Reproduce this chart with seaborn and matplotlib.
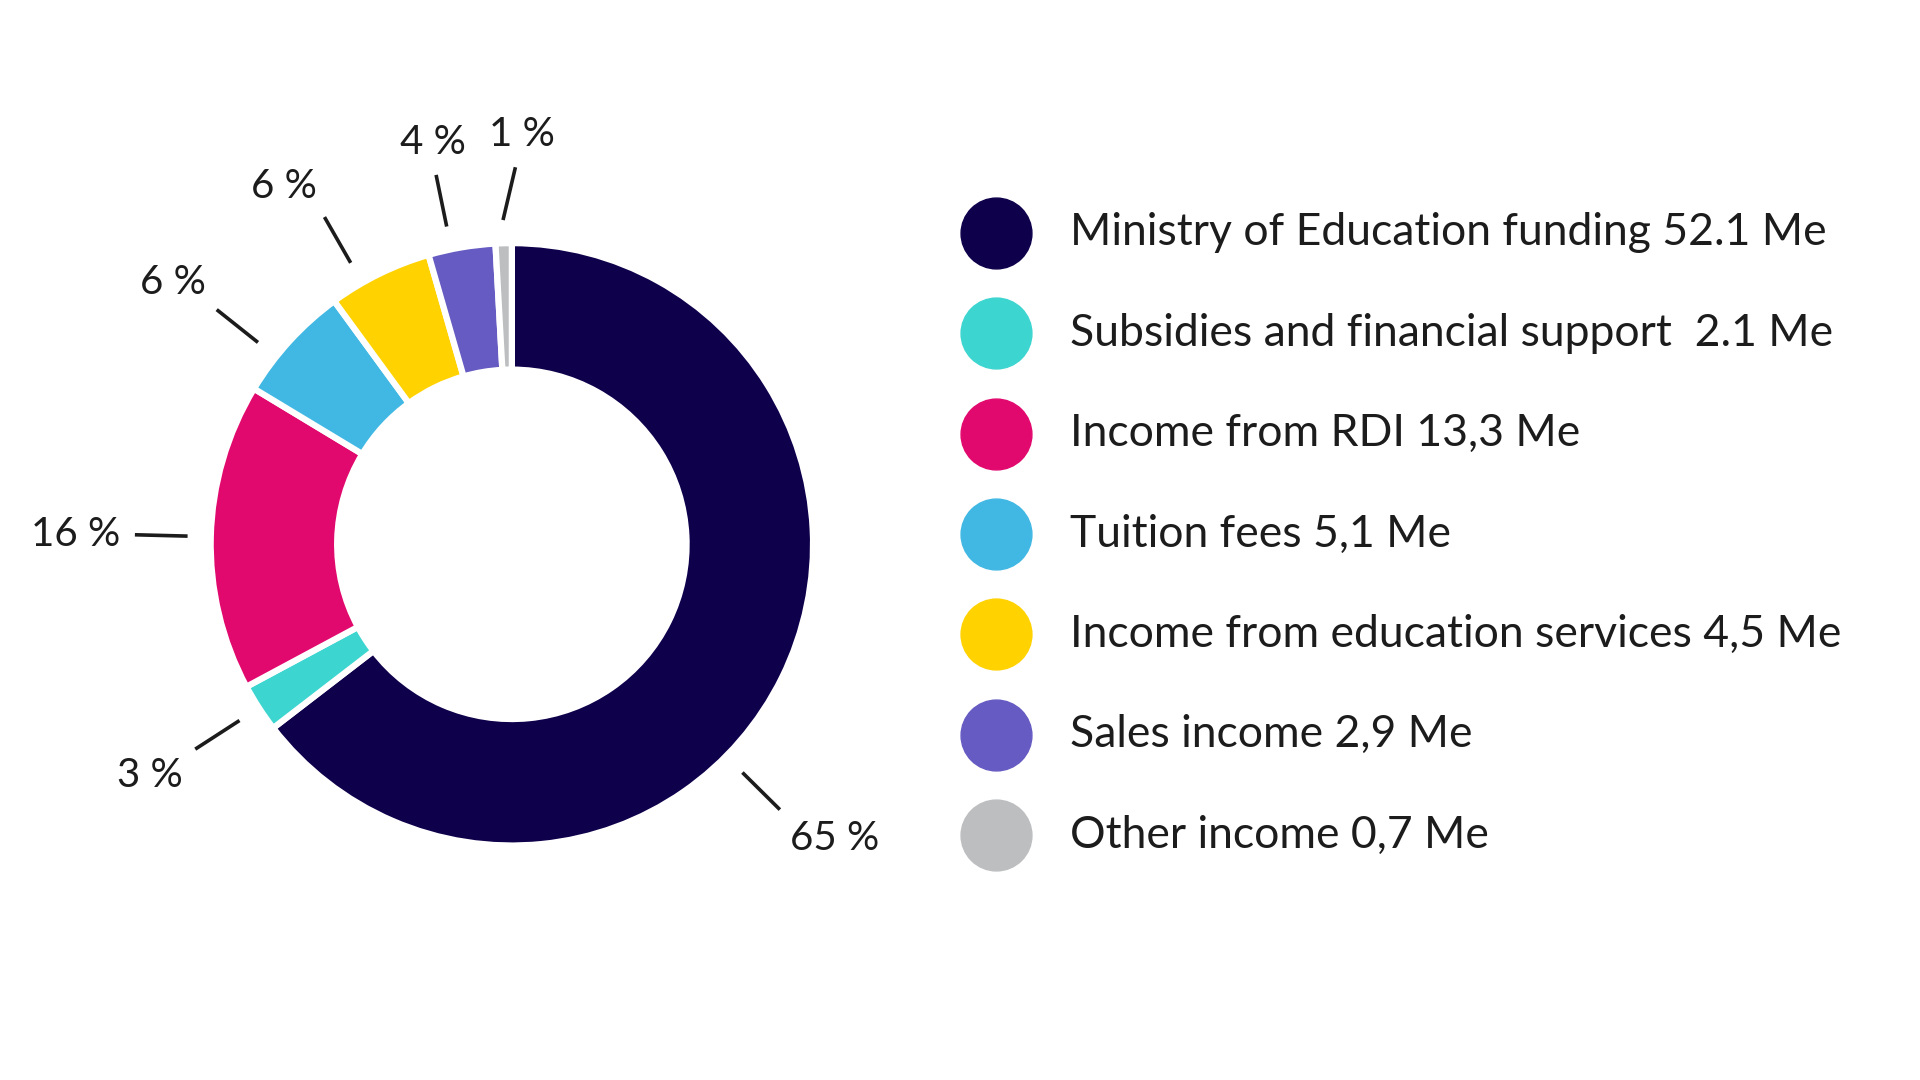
import numpy as np
import matplotlib
matplotlib.use("Agg")
import matplotlib.pyplot as plt
import seaborn as sns

# ---- data ----
categories = [
    "Ministry of Education funding 52.1 Me",
    "Subsidies and financial support  2.1 Me",
    "Income from RDI 13,3 Me",
    "Tuition fees 5,1 Me",
    "Income from education services 4,5 Me",
    "Sales income 2,9 Me",
    "Other income 0,7 Me",
]
values = [52.1, 2.1, 13.3, 5.1, 4.5, 2.9, 0.7]
pct_labels = ["65 %", "3 %", "16 %", "6 %", "6 %", "4 %", "1 %"]
colors = ["#0e004b", "#3dd5d0", "#e2096e", "#41b8e3", "#ffd200", "#655bc2", "#bcbec0"]

sns.set_theme(style="white")
plt.rcParams["font.family"] = ["Lato", "DejaVu Sans"]
palette = sns.color_palette(colors)
TXT = "#1c1c1c"
FS_LEG = 32
FS_LAB = 29

fig = plt.figure(figsize=(19.2, 10.8), dpi=100)
fig.patch.set_facecolor("white")

# donut axes
ax = fig.add_axes([0.0156, 0.0497, 0.502, 0.8926])

wedges, _ = ax.pie(values, colors=palette, startangle=90, counterclock=False,
                   radius=1.0,
                   wedgeprops=dict(width=0.42, edgecolor="white", linewidth=4.5))
ax.set_xlim(-1.6, 1.6)
ax.set_ylim(-1.6, 1.6)
ax.set_aspect("equal")
ax.axis("off")

total = float(np.sum(values))
cum = np.cumsum([0] + values)
# label placement tweaks (degrees, clockwise): rotate whole label / tilt last leader
label_shift = {0: 18.5, 3: -4.0, 4: -3.7, 5: -2.0}
tilt = {6: 3.0}
for i, lab in enumerate(pct_labels):
    mid = (cum[i] + values[i] / 2) / total * 360.0 + label_shift.get(i, 0.0)
    a_in = np.deg2rad(mid)
    a_out = np.deg2rad(mid + tilt.get(i, 0) * 0.7)
    a_txt = np.deg2rad(mid + tilt.get(i, 0))
    r1, r2, rt = 1.077, 1.252, 1.30
    ax.plot([r1 * np.sin(a_in), r2 * np.sin(a_out)],
            [r1 * np.cos(a_in), r2 * np.cos(a_out)],
            color=TXT, lw=2.6, solid_capstyle="butt")
    x, y = np.sin(a_txt), np.cos(a_txt)
    ha = "left" if x > 0.5 else ("right" if x < -0.35 else "center")
    va = "bottom" if y > 0.3 else ("top" if y < -0.3 else "center")
    ax.text(rt * x, rt * y, lab, ha=ha, va=va, fontsize=FS_LAB, color=TXT)

# legend
y0, dy = 0.7846, 0.0930
for i, (cat, col) in enumerate(zip(categories, palette)):
    yy = y0 - i * dy
    fig.add_artist(plt.Line2D([0.5185], [yy], marker="o", markersize=51,
                              markerfacecolor=col, markeredgecolor=col,
                              linestyle="none", transform=fig.transFigure))
    fig.text(0.5574, yy, cat, ha="left", va="center", fontsize=FS_LEG, color=TXT)

fig.savefig("out.png", dpi=100, facecolor="white")
